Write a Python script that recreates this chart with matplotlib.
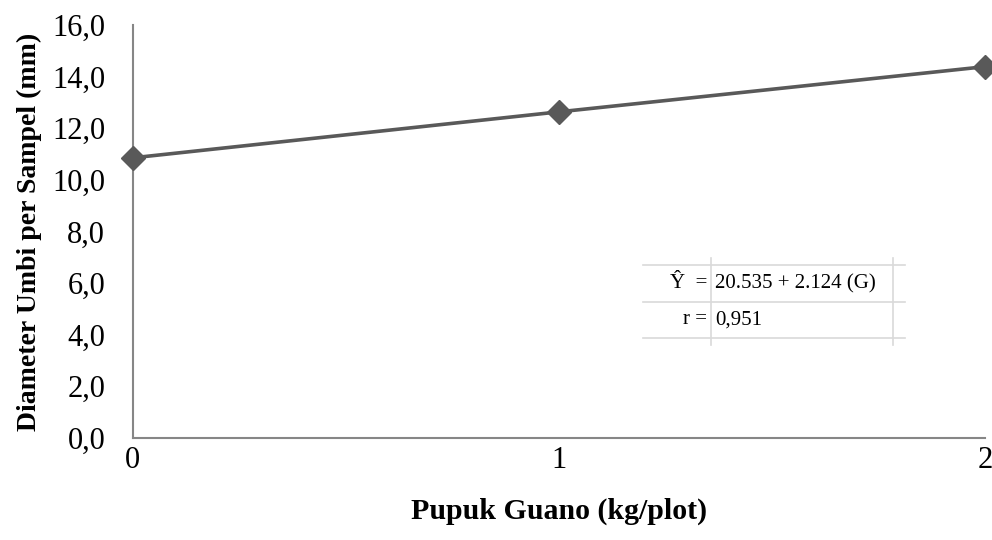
import matplotlib.pyplot as plt
import numpy as np

plt.rcParams['font.family'] = ['Liberation Serif', 'DejaVu Serif']

# data
guano = [0, 1, 2]
diameter = [10.85, 12.63, 14.38]
yticks = np.arange(0, 16.1, 2)

fig = plt.figure(figsize=(9.92, 5.4), dpi=100)
ax = fig.add_axes([0.134, 0.189, 0.859, 0.765])

ax.plot(guano, diameter, color='#595959', lw=2.6, marker='D', ms=12,
        clip_on=False, zorder=3)

ax.set_xlim(0, 2)
ax.set_ylim(0, 16)
ax.set_xticks(guano)
ax.set_yticks(yticks)
ax.set_yticklabels([f'{v:.1f}'.replace('.', ',') for v in yticks])
ax.tick_params(length=0, labelsize=22)
ax.tick_params(axis='y', pad=20)
ax.tick_params(axis='x', pad=6)

for s in ['top', 'right']:
    ax.spines[s].set_visible(False)
for s in ['left', 'bottom']:
    ax.spines[s].set_color('#868686')
    ax.spines[s].set_linewidth(1.5)

ax.set_xlabel('Pupuk Guano (kg/plot)', fontsize=21.5, fontweight='bold', labelpad=16)
ax.set_ylabel('Diameter Umbi per Sampel (mm)', fontsize=20, fontweight='bold', labelpad=7)

# regression box
lc = '#d9d9d9'
for y in [265, 302, 338]:
    fig.add_artist(plt.Line2D([643/992, 905/992], [1-y/540]*2, color=lc, lw=1.2))
for x in [711, 893]:
    fig.add_artist(plt.Line2D([x/992]*2, [1-258/540, 1-345/540], color=lc, lw=1.2))
fs = 15
fig.text(707/992, 1-284/540, 'Ŷ  =', ha='right', va='center', fontsize=fs)
fig.text(715/992, 1-284/540, '20.535 + 2.124 (G)', ha='left', va='center', fontsize=fs)
fig.text(707/992, 1-320/540, 'r =', ha='right', va='center', fontsize=fs)
fig.text(715/992, 1-320/540, '0,951', ha='left', va='center', fontsize=fs)

fig.savefig('out.png', dpi=100)
